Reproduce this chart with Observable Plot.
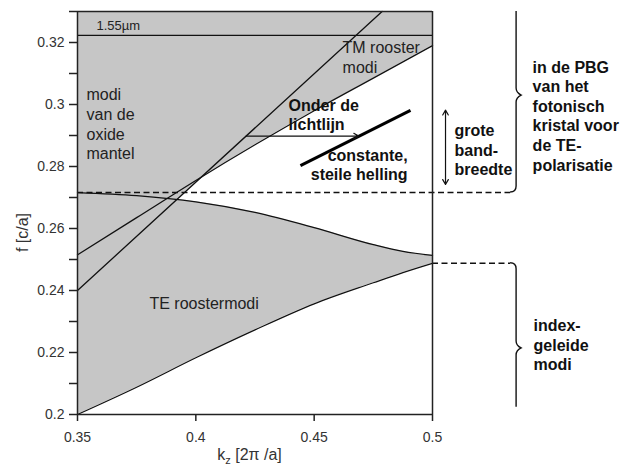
<!DOCTYPE html>
<html><head><meta charset="utf-8">
<script src="https://cdn.jsdelivr.net/npm/d3@7"></script>
<script src="https://cdn.jsdelivr.net/npm/@observablehq/plot@0.6"></script>
<style>body{margin:0;background:#fff} svg{display:block}</style>
</head><body><div id="chart"></div>
<script>
// ---- data ----
const kSamples   = [0.35, 0.375, 0.4, 0.425, 0.45, 0.475, 0.4875, 0.5];
const teTop      = [0.2716, 0.2706, 0.2686, 0.2652, 0.2603, 0.2548, 0.2526, 0.2513];
const teBottom   = [0.2, 0.2088, 0.2183, 0.2273, 0.2357, 0.2425, 0.2458, 0.2488];
const tmK        = [0.35, 0.375, 0.4, 0.425, 0.45, 0.475, 0.5];
const tmLower    = [0.2515, 0.2635, 0.2755, 0.287, 0.298, 0.3085, 0.319];
const lightK     = [0.35, 0.4787];
const lightF     = [0.24, 0.33];
const wavelengthF = 0.3223;     // 1.55 µm line
const gapTop     = 0.2716;      // top of TE band at left (dashed)
const gapBottom  = 0.2488;      // bottom of TE band at zone edge (dashed)
const slopeSeg   = {x1: 0.4442, y1: 0.2803, x2: 0.4907, y2: 0.2981};
const xTicks     = [0.35, 0.4, 0.45, 0.5];
const yTicks     = [0.2,0.21,0.22,0.23,0.24,0.25,0.26,0.27,0.28,0.29,0.3,0.31,0.32,0.33];
const yLabelled  = [0.2,0.22,0.24,0.26,0.28,0.3,0.32];
const yMax = 0.33, yMin = 0.2, xMin = 0.35, xMax = 0.5;

const GRAY = "#c6c6c6";
const FONT = "'Liberation Sans', Arial, Helvetica, sans-serif";

const teArea    = kSamples.map((k, i) => ({k, lo: teBottom[i], hi: teTop[i]}));
const tmArea    = tmK.map((k, i) => ({k, lo: tmLower[i], hi: yMax}));
const lightArea = lightK.map((k, i) => ({k, lo: lightF[i], hi: yMax}));
const teTopLine = kSamples.map((k, i) => ({k, f: teTop[i]}));
const teBotLine = kSamples.map((k, i) => ({k, f: teBottom[i]}));
const tmLine    = tmK.map((k, i) => ({k, f: tmLower[i]}));
const lightLine = lightK.map((k, i) => ({k, f: lightF[i]}));

const xOut = 0.533; // end of dashed guide lines, right of frame

const normalLabels = [
  {x: 0.3580, y: 0.3239, t: "1.55µm", s: 13, lh: 1.2},
  {x: 0.3538, y: 0.2823, t: "modi\nvan de\noxide\nmantel", s: 16, lh: 1.23},
  {x: 0.4620, y: 0.3103, t: "TM rooster\nmodi", s: 16, lh: 1.25},
  {x: 0.3804, y: 0.2339, t: "TE roostermodi", s: 16, lh: 1.2}
];
const boldLabels = [
  {x: 0.4392, y: 0.2919, t: "Onder de\nlichtlijn", a: "start", lh: 1.19},
  {x: 0.4895, y: 0.2755, t: "constante,\nsteile helling", a: "end", lh: 1.22},
  {x: 0.5093, y: 0.2771, t: "grote\nband-\nbreedte", a: "start", lh: 1.22},
  {x: 0.5423, y: 0.2787, t: "in de PBG\nvan het\nfotonisch\nkristal voor\nde TE-\npolarisatie", a: "start", lh: 1.22},
  {x: 0.5427, y: 0.2145, t: "index-\ngeleide\nmodi", a: "start", lh: 1.19}
];

const plot = Plot.plot({
  width: 621, height: 465,
  marginLeft: 77, marginRight: 189, marginTop: 11, marginBottom: 51,
  style: {fontFamily: FONT, fontSize: "14px", background: "#fff", overflow: "visible", color: "#222"},
  x: {domain: [xMin, xMax]},
  y: {domain: [yMin, yMax]},
  marks: [
    Plot.areaY(teArea, {x: "k", y1: "lo", y2: "hi", fill: GRAY, curve: "monotone-x"}),
    Plot.areaY(tmArea, {x: "k", y1: "lo", y2: "hi", fill: GRAY, curve: "monotone-x"}),
    Plot.areaY(lightArea, {x: "k", y1: "lo", y2: "hi", fill: GRAY}),
    Plot.line(teTopLine, {x: "k", y: "f", stroke: "#111", strokeWidth: 1.3, curve: "monotone-x"}),
    Plot.line(teBotLine, {x: "k", y: "f", stroke: "#111", strokeWidth: 1.3, curve: "monotone-x"}),
    Plot.line(tmLine, {x: "k", y: "f", stroke: "#111", strokeWidth: 1.3, curve: "monotone-x"}),
    Plot.line(lightLine, {x: "k", y: "f", stroke: "#111", strokeWidth: 1.3}),
    Plot.ruleY([wavelengthF], {x1: xMin, x2: xMax, stroke: "#111", strokeWidth: 1.3}),
    Plot.ruleY([gapTop], {x1: xMin, x2: xOut, stroke: "#111", strokeWidth: 1.4, strokeDasharray: "6,3.5"}),
    Plot.ruleY([gapBottom], {x1: xMax, x2: xOut, stroke: "#111", strokeWidth: 1.4, strokeDasharray: "6,3.5"}),
    Plot.link([slopeSeg], {x1: "x1", y1: "y1", x2: "x2", y2: "y2", stroke: "#000", strokeWidth: 3}),
    Plot.arrow([{x1: 0.4213, y1: 0.2898, x2: 0.4688, y2: 0.2898}], {x1: "x1", y1: "y1", x2: "x2", y2: "y2", stroke: "#111", strokeWidth: 1.2, headLength: 7}),
    Plot.arrow([{x1: 0.5055, y1: 0.2862, x2: 0.5055, y2: 0.2982}, {x1: 0.5055, y1: 0.2862, x2: 0.5055, y2: 0.2742}], {x1: "x1", y1: "y1", x2: "x2", y2: "y2", stroke: "#111", strokeWidth: 1.2, headLength: 7}),
    // frame
    Plot.ruleX([xMin], {stroke: "#222", strokeWidth: 1.5}),
    Plot.ruleX([xMax], {stroke: "#222", strokeWidth: 1.5}),
    Plot.ruleY([yMin], {stroke: "#222", strokeWidth: 1.5}),
    Plot.ruleY([yMax], {stroke: "#222", strokeWidth: 1.5}),
    Plot.axisY({ticks: yTicks, tickFormat: d => yLabelled.includes(d) ? String(d) : "", tickSize: 8, tickPadding: 5, stroke: "#222", strokeWidth: 1.5, fill: "#333", fontSize: 14, label: null}),
    Plot.axisX({ticks: xTicks, tickFormat: d => String(d), tickSize: 7, tickPadding: 11, stroke: "#222", strokeWidth: 1.5, fill: "#333", fontSize: 14, label: null}),
    // texts
    ...normalLabels.map(d => Plot.text([d], {x: "x", y: "y", text: "t", textAnchor: "start", lineAnchor: "bottom", lineHeight: d.lh, fontSize: d.s, fill: "#222"})),
    ...boldLabels.map(d => Plot.text([d], {x: "x", y: "y", text: "t", textAnchor: d.a, lineAnchor: "bottom", lineHeight: d.lh, fontSize: 16, fontWeight: "bold", fill: "#111"})),
    Plot.text([{x: 0.3268, y: 0.2587, t: "f [c/a]"}], {x: "x", y: "y", text: "t", rotate: -90, fontSize: 16, fill: "#333"})
  ]
});
document.getElementById("chart").appendChild(plot);

// braces and x-axis label with subscript, positioned through the plot's scales
const xs = plot.scale("x"), ys = plot.scale("y");
const svg = d3.select(plot);
const dashEnd = xs.apply(xOut);
const bx = dashEnd + 6;
function braceRight(yTop, yTip, yBot, hookTop, hookBot) {
  let p = "";
  if (hookTop) p += `M${dashEnd},${yTop} C${bx-2},${yTop} ${bx},${yTop+2} ${bx},${yTop+6} `;
  else p += `M${bx},${yTop} `;
  p += `V${yTip-7} C${bx},${yTip-3} ${bx+3},${yTip-1} ${bx+5},${yTip} C${bx+3},${yTip+1} ${bx},${yTip+3} ${bx},${yTip+7} `;
  if (hookBot) p += `V${yBot-6} C${bx},${yBot-2} ${bx-2},${yBot} ${dashEnd},${yBot}`;
  else p += `V${yBot}`;
  return p;
}
svg.append("path").attr("d", braceRight(ys.apply(yMax), ys.apply(0.3029), ys.apply(gapTop), false, true))
  .attr("fill", "none").attr("stroke", "#111").attr("stroke-width", 1.4);
svg.append("path").attr("d", braceRight(ys.apply(gapBottom), ys.apply(0.2213), ys.apply(0.2023), true, false))
  .attr("fill", "none").attr("stroke", "#111").attr("stroke-width", 1.4);

const xl = svg.append("text").attr("x", xs.apply(0.4229)).attr("y", 460)
  .attr("text-anchor", "middle").attr("font-family", FONT).attr("font-size", 16).attr("fill", "#333");
xl.append("tspan").text("k");
xl.append("tspan").attr("font-size", 11).attr("dy", 4).text("z");
xl.append("tspan").attr("dy", -4).text(" [2π /a]");
</script>
</body></html>
